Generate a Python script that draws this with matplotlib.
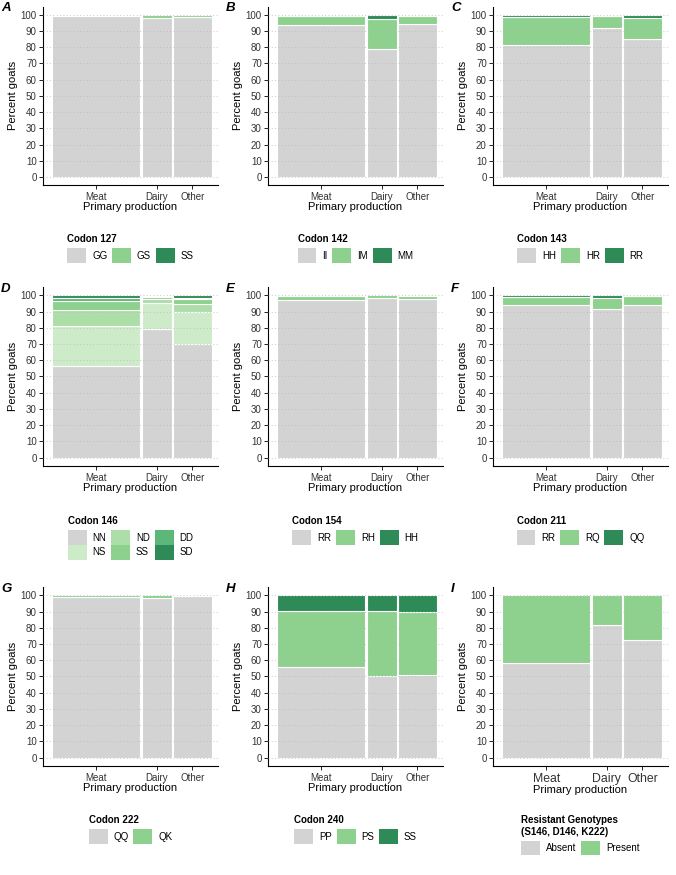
import matplotlib.pyplot as plt
from matplotlib.patches import Patch

plt.rcParams['font.family'] = ['Liberation Sans', 'DejaVu Sans']

# groups on the x axis and their share of all goats (bar widths)
production = ["Meat", "Dairy", "Other"]
production_share = [0.555, 0.188, 0.241]

# percent of goats per genotype, one list per group: Meat, Dairy, Other
codon127_labels = ["GG", "GS", "SS"]
codon127 = [[99.2, 0.8, 0.0], [97.8, 2.2, 0.0], [98.7, 1.3, 0.0]]

codon142_labels = ["II", "IM", "MM"]
codon142 = [[93.5, 6.0, 0.5], [78.7, 18.5, 2.8], [94.0, 5.5, 0.5]]

codon143_labels = ["HH", "HR", "RR"]
codon143 = [[81.3, 17.1, 1.6], [92.0, 7.0, 1.0], [85.0, 12.8, 2.2]]

codon146_labels = ["NN", "NS", "ND", "SS", "DD", "SD"]
codon146 = [[56.3, 24.8, 9.7, 5.5, 2.2, 1.5],
            [79.0, 16.5, 2.0, 1.2, 0.8, 0.5],
            [69.7, 20.0, 4.8, 3.0, 1.1, 1.4]]

codon154_labels = ["RR", "RH", "HH"]
codon154 = [[97.4, 2.2, 0.4], [98.3, 1.7, 0.0], [97.6, 2.1, 0.3]]

codon211_labels = ["RR", "RQ", "QQ"]
codon211 = [[94.0, 5.0, 1.0], [91.5, 7.0, 1.5], [94.0, 5.3, 0.7]]

codon222_labels = ["QQ", "QK"]
codon222 = [[99.2, 0.8], [98.1, 1.9], [99.6, 0.4]]

codon240_labels = ["PP", "PS", "SS"]
codon240 = [[55.6, 34.7, 9.7], [50.0, 40.3, 9.7], [50.6, 39.3, 10.1]]

resistant_labels = ["Absent", "Present"]
resistant = [[58.2, 41.8], [81.7, 18.3], [72.2, 27.8]]

# colours
GREY = "#d3d3d3"
LIGHT = "#8ed08e"
DARK = "#2e8b57"
colors3 = [GREY, LIGHT, DARK]
colors2 = [GREY, LIGHT]
colors146 = [GREY, "#cdebc8", "#acdea8", "#8ed08e", "#5bb878", "#2e8b57"]

panels = [
    ("A", "Codon 127", codon127_labels, codon127, colors3),
    ("B", "Codon 142", codon142_labels, codon142, colors3),
    ("C", "Codon 143", codon143_labels, codon143, colors3),
    ("D", "Codon 146", codon146_labels, codon146, colors146),
    ("E", "Codon 154", codon154_labels, codon154, colors3),
    ("F", "Codon 211", codon211_labels, codon211, colors3),
    ("G", "Codon 222", codon222_labels, codon222, colors2),
    ("H", "Codon 240", codon240_labels, codon240, colors3),
    ("I", "Resistant Genotypes\n(S146, D146, K222)", resistant_labels, resistant, colors2),
]

W, H = 676, 875
fig = plt.figure(figsize=(W / 100, H / 100), dpi=100)

col_left = [43, 268, 493]
row_top = [6.6, 287.2, 587.2]
ax_w, ax_h = 175, 178.5
legend_y = [234, 516, 815]
gap = 0.008

for i, (letter, title, labels, values, colors) in enumerate(panels):
    r, c = divmod(i, 3)
    x0, y0 = col_left[c], row_top[r]
    ax = fig.add_axes([x0 / W, 1 - (y0 + ax_h) / H, ax_w / W, ax_h / H])

    # mosaic bars
    left = 0
    centers = []
    for share, group in zip(production_share, values):
        bottom = 0
        for v, col in zip(group, colors):
            if v > 0:
                ax.bar(left, v, width=share, bottom=bottom, align="edge",
                       color=col, edgecolor="white", linewidth=0.8, zorder=1)
            bottom += v
        centers.append(left + share / 2)
        left += share + gap

    ax.set_xlim(-0.055, 1.04)
    ax.set_ylim(-5, 105)
    ax.set_axisbelow(False)
    ax.grid(axis="y", color="#b8b8b8", linestyle=(0, (1, 3)), linewidth=0.6)

    for s in ["top", "right"]:
        ax.spines[s].set_visible(False)
    for s in ["left", "bottom"]:
        ax.spines[s].set_linewidth(0.8)

    ax.set_yticks(range(0, 101, 10))
    ax.set_xticks(centers, production)
    xsize = 8.8 if letter == "I" else 7.0
    ax.tick_params(axis="y", length=3, width=0.6, labelsize=7.0, pad=1.5, labelcolor="#333333")
    ax.tick_params(axis="x", length=3, width=0.6, labelsize=xsize, pad=2, labelcolor="#333333")
    ax.set_ylabel("Percent goats", fontsize=8, labelpad=2)
    ax.set_xlabel("Primary production", fontsize=8, labelpad=0)

    fig.text((c * 225 + 1) / W, 1 - (y0 - 4.5) / H, letter, fontsize=9.5,
             fontweight="bold", fontstyle="italic", va="top", ha="left")

    handles = [Patch(facecolor=col, edgecolor="none") for col in colors]
    ncol = 3 if len(labels) > 2 else 2
    leg = fig.legend(handles, labels, loc="upper center",
                     bbox_to_anchor=((x0 + ax_w / 2) / W, 1 - legend_y[r] / H),
                     ncol=ncol, frameon=False, title=title, alignment="left",
                     title_fontproperties={"weight": "bold", "size": 7.0},
                     fontsize=7.0, handlelength=1.95, handleheight=1.95,
                     handletextpad=0.6, columnspacing=0.5, labelspacing=0,
                     borderpad=0, borderaxespad=0)
    leg._legend_box.sep = 3

fig.savefig("out.png", dpi=100)
